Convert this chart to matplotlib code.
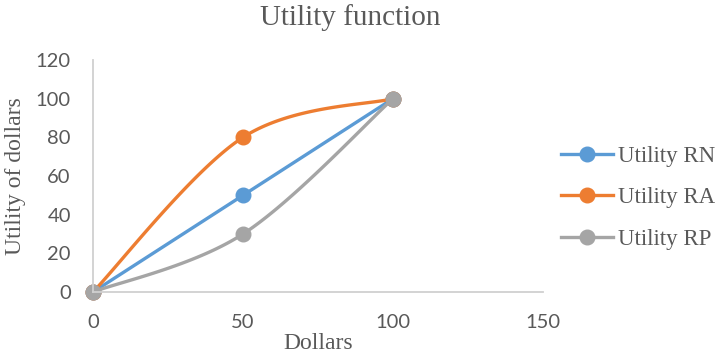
import numpy as np
import matplotlib
matplotlib.use("Agg")
import matplotlib.pyplot as plt

dollars = [0, 50, 100]
utility_rn = [0, 50, 100]
utility_ra = [0, 80, 100]
utility_rp = [0, 30, 100]

series = [
    ("Utility RN", utility_rn, "#5B9BD5"),
    ("Utility RA", utility_ra, "#ED7D31"),
    ("Utility RP", utility_rp, "#A5A5A5"),
]


def smooth(xs, ys, n=60):
    # Catmull-Rom style bezier through the points (Excel "smoothed line")
    pts = np.column_stack([xs, ys]).astype(float)
    padded = np.vstack([pts[0], pts, pts[-1]])
    out = []
    t = np.linspace(0, 1, n)[:, None]
    for i in range(len(pts) - 1):
        p0, p1, p2, p3 = padded[i], padded[i + 1], padded[i + 2], padded[i + 3]
        c1 = p1 + (p2 - p0) / 6
        c2 = p2 - (p3 - p1) / 6
        seg = ((1 - t) ** 3) * p1 + 3 * ((1 - t) ** 2) * t * c1 \
            + 3 * (1 - t) * t ** 2 * c2 + t ** 3 * p2
        out.append(seg if i == 0 else seg[1:])
    out = np.vstack(out)
    return out[:, 0], out[:, 1]


serif = "Liberation Serif"
text_gray = "#595959"

fig = plt.figure(figsize=(7.22, 3.56), dpi=100)
ax = fig.add_axes([0.1288, 0.1798, 0.6233, 0.6517])

for name, vals, color in series:
    sx, sy = smooth(dollars, vals)
    ax.plot(sx, sy, color=color, lw=2.4, clip_on=False, solid_capstyle="round")
    ax.plot(dollars, vals, "o", color=color, ms=10.5, clip_on=False)
    # legend proxy
    ax.plot([], [], color=color, lw=2.4, marker="o", ms=10.5, label=name)

ax.set_xlim(0, 150)
ax.set_ylim(0, 120)
ax.set_xticks([0, 50, 100, 150])
ax.set_yticks(range(0, 121, 20))
for spine in ["top", "right"]:
    ax.spines[spine].set_visible(False)
for spine in ["left", "bottom"]:
    ax.spines[spine].set_color("#D0D0D0")
    ax.spines[spine].set_linewidth(1.3)
ax.tick_params(length=0, labelsize=14.5, labelcolor=text_gray, pad=16)
for lbl in ax.get_xticklabels() + ax.get_yticklabels():
    lbl.set_family("Lato")

fig.text(0.485, 0.952, "Utility function", family=serif, fontsize=21,
         color=text_gray, ha="center", va="center")
fig.text(0.4405, 0.036, "Dollars", family=serif, fontsize=17,
         color=text_gray, ha="center", va="center")
fig.text(0.022, 0.505, "Utility of dollars", family=serif, fontsize=17,
         color=text_gray, ha="center", va="center", rotation=90)

handles, labels = ax.get_legend_handles_labels()
fig.legend(handles, labels, loc="center left", bbox_to_anchor=(0.748, 0.444),
           frameon=False, prop={"family": serif, "size": 16.5}, labelcolor=text_gray,
           handlelength=2.3, handletextpad=0.2, labelspacing=0.9)

fig.savefig("out.png", dpi=100)
